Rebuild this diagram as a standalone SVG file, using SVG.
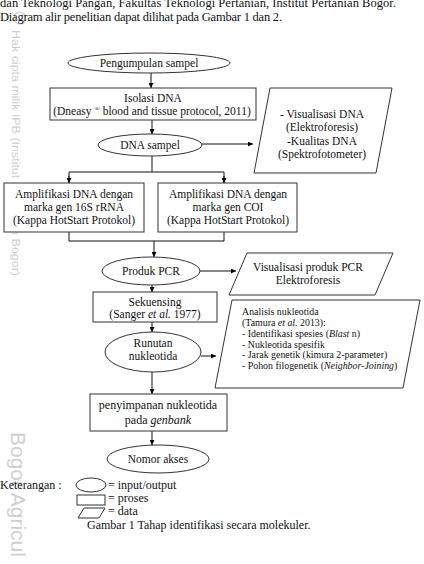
<svg xmlns="http://www.w3.org/2000/svg" width="424" height="564" viewBox="0 0 424 564">
<defs>
<marker id="ah" viewBox="0 0 10 10" refX="10" refY="5" markerWidth="5" markerHeight="5" orient="auto" markerUnits="userSpaceOnUse">
<path d="M0,0 L10,5 L0,10 z" fill="#000"/>
</marker>
<style>
.t{font-family:"Liberation Serif","Times New Roman",serif;font-size:11.5px;fill:#111}
.c{text-anchor:middle}
.hd{font-size:12.5px}
.lg{font-size:12px}
.sm{font-size:9.9px}
.s{fill:#fff;stroke:#333;stroke-width:1}
.ln{fill:none;stroke:#111;stroke-width:1}
.ar{fill:none;stroke:#111;stroke-width:1;marker-end:url(#ah)}
.wm{font-family:"Liberation Sans",Arial,sans-serif;fill:#cfcfcf}
</style>
</defs>
<rect width="424" height="564" fill="#fff"/>

<g id="watermark">
<circle cx="20" cy="18" r="6" fill="none" stroke="#d0d0d0" stroke-width="1.2"/>
<text class="wm" style="font-size:10px" transform="translate(12,30) rotate(90)" textLength="246" lengthAdjust="spacingAndGlyphs">Hak cipta milik IPB (Institut Pertanian Bogor)</text>
<text class="wm" style="font-size:21px" transform="translate(11,432) rotate(90)">Bogor Agricul</text>
</g>

<g id="header">
<text class="t hd" x="0" y="7" textLength="396" lengthAdjust="spacing">dan Teknologi Pangan, Fakultas Teknologi Pertanian, Institut Pertanian Bogor.</text>
<text class="t hd" x="0" y="20.5" textLength="282" lengthAdjust="spacing">Diagram alir penelitian dapat dilihat pada Gambar 1 dan 2.</text>
</g>

<g id="connectors">
<line class="ar" x1="151" y1="73" x2="151" y2="88"/>
<line class="ar" x1="152" y1="120" x2="152" y2="134"/>
<line class="ar" x1="202" y1="144" x2="253" y2="144"/>
<polyline class="ln" points="152,156 152,172"/>
<polyline class="ln" points="69,183 69,172 224,172 224,183"/>
<line class="ar" x1="69" y1="176" x2="69" y2="183"/>
<line class="ar" x1="224" y1="176" x2="224" y2="183"/>
<polyline class="ln" points="69,232 69,241 224,241 224,232"/>
<line class="ar" x1="154" y1="241" x2="154" y2="257"/>
<line class="ar" x1="200" y1="271" x2="236" y2="271"/>
<line class="ar" x1="152" y1="285" x2="152" y2="292"/>
<line class="ar" x1="152" y1="322" x2="152" y2="332"/>
<line class="ar" x1="201" y1="356" x2="216" y2="356"/>
<line class="ar" x1="152" y1="372" x2="152" y2="394"/>
<line class="ar" x1="152" y1="431" x2="152" y2="445"/>
</g>

<g id="n1">
<ellipse class="s" cx="149" cy="63" rx="81" ry="10"/>
<text class="t c" x="149" y="67">Pengumpulan sampel</text>
</g>

<g id="n2">
<rect class="s" x="50" y="88" width="206" height="32"/>
<text class="t c" x="153" y="102">Isolasi DNA</text>
<text class="t c" x="152" y="115">(Dneasy <tspan style="font-size:7px" dy="-4">®</tspan><tspan dy="4"> blood and tissue protocol, 2011)</tspan></text>
</g>

<g id="n3">
<ellipse class="s" cx="150" cy="145" rx="52" ry="11"/>
<text class="t c" x="150" y="149">DNA sampel</text>
</g>

<g id="n4">
<polygon class="s" points="270,88 392,88 376,173 254,173"/>
<text class="t c" x="322" y="118">- Visualisasi DNA</text>
<text class="t c" x="322" y="131">(Elektroforesis)</text>
<text class="t c" x="322" y="145">-Kualitas DNA</text>
<text class="t c" x="322" y="158">(Spektrofotometer)</text>
</g>

<g id="n5">
<rect class="s" x="4" y="183" width="140" height="49"/>
<text class="t c" x="74" y="198">Amplifikasi DNA dengan</text>
<text class="t c" x="74" y="211">marka gen 16S rRNA</text>
<text class="t c" x="74" y="224">(Kappa HotStart Protokol)</text>
</g>

<g id="n6">
<rect class="s" x="158" y="183" width="139" height="49"/>
<text class="t c" x="228" y="198">Amplifikasi DNA dengan</text>
<text class="t c" x="228" y="211">marka gen COI</text>
<text class="t c" x="228" y="224">(Kappa HotStart Protokol)</text>
</g>

<g id="n7">
<ellipse class="s" cx="151" cy="271" rx="49" ry="14"/>
<text class="t c" x="151" y="275">Produk PCR</text>
</g>

<g id="n8">
<polygon class="s" points="247,253 393,253 375,295 229,295"/>
<text class="t c" x="308" y="271">Visualisasi produk PCR</text>
<text class="t c" x="308" y="284">Elektroforesis</text>
</g>

<g id="n9">
<rect class="s" x="93" y="292" width="124" height="30"/>
<text class="t c" x="155" y="306">Sekuensing</text>
<text class="t c" x="155" y="318">(Sanger <tspan font-style="italic">et al.</tspan> 1977)</text>
</g>

<g id="n10">
<ellipse class="s" cx="153" cy="352" rx="48" ry="20"/>
<text class="t c" x="153" y="347">Runutan</text>
<text class="t c" x="153" y="360">nukleotida</text>
</g>

<g id="n11">
<polygon class="s" points="232,300 420,300 403,388 215,388"/>
<text class="t sm" x="242" y="315">Analisis nukleotida</text>
<text class="t sm" x="242" y="326">(Tamura <tspan font-style="italic">et al.</tspan> 2013):</text>
<text class="t sm" x="242" y="337">- Identifikasi spesies (<tspan font-style="italic">Blast</tspan> n)</text>
<text class="t sm" x="242" y="347.5">- Nukleotida spesifik</text>
<text class="t sm" x="242" y="358">- Jarak genetik (kimura 2-parameter)</text>
<text class="t sm" x="242" y="368.5">- Pohon filogenetik (<tspan font-style="italic">Neighbor-Joining</tspan>)</text>
</g>

<g id="n12">
<rect class="s" x="90" y="394" width="137" height="37"/>
<text class="t c lg" x="158" y="409">penyimpanan nukleotida</text>
<text class="t c lg" x="158" y="424">pada <tspan font-style="italic">genbank</tspan></text>
</g>

<g id="n13">
<ellipse class="s" cx="158" cy="459" rx="51" ry="14"/>
<text class="t c" x="158" y="463">Nomor akses</text>
</g>

<g id="legend">
<text class="t lg" x="0" y="489">Keterangan :</text>
<ellipse class="s" cx="91" cy="485" rx="15" ry="7"/>
<text class="t lg" x="108" y="489">= input/output</text>
<rect class="s" x="77" y="495" width="28" height="10"/>
<text class="t lg" x="108" y="502">= proses</text>
<polygon class="s" points="84,508 105,508 99,518 78,518"/>
<text class="t lg" x="108" y="515">= data</text>
<text class="t lg" x="87" y="529">Gambar 1 Tahap identifikasi secara molekuler.</text>
</g>
</svg>
